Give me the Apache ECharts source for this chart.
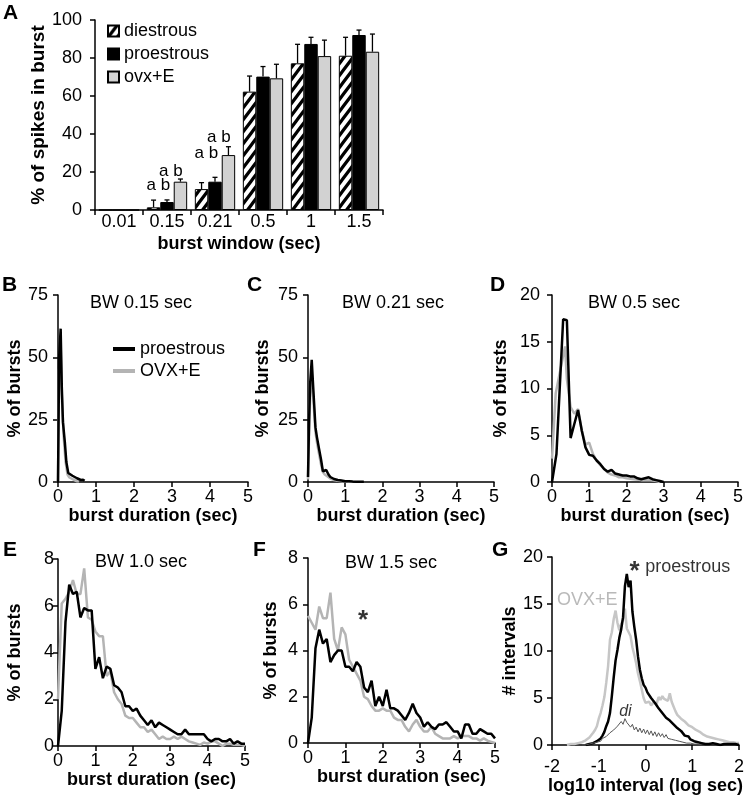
<!DOCTYPE html>
<html><head><meta charset="utf-8">
<script src="https://cdn.jsdelivr.net/npm/echarts@6/dist/echarts.min.js"></script>
<style>html,body{margin:0;padding:0;background:#fff}#c{width:747px;height:798px}</style>
</head><body><div id="c"></div>
<script>
const FONT = "'Liberation Sans', Arial, Helvetica, sans-serif";

// ---------- Panel A: % of spikes in burst ----------
const windows = ['0.01', '0.15', '0.21', '0.5', '1', '1.5'];
const diestrous = [0, 1.4, 11, 62.3, 77.2, 81.2];
const diestrousSem = [0, 3.8, 3.4, 8.2, 10, 9.7];
const proestrous = [0, 4.2, 14.9, 70.2, 87.4, 92.1];
const proestrousSem = [0, 1.1, 2.3, 5.3, 3.5, 2.6];
const ovxE = [0, 14.9, 28.9, 69.3, 81, 83.3];
const ovxESem = [0, 1.4, 4.4, 7.4, 8.4, 9.3];
// [category index, value at text centre, text, side (-1 = dies/pro pair, 1 = pro/ovx pair)]
const sigLetters = [[1, 13.2, 'a b', -1], [1, 20.5, 'a b', 1], [2, 30, 'a b', -1], [2, 38.4, 'a b', 1]];

// ---------- Panels B-D: burst duration histograms [sec, %] ----------
const bProestrous = [[0,0],[0.03,50],[0.07,61.5],[0.1,38],[0.13,24],[0.18,16],[0.22,8],[0.27,3.6],[0.32,2.8],[0.38,2.5],[0.44,2.0],[0.5,1.5],[0.55,1.0],[0.6,0.8],[0.66,0.9],[0.7,0.5]];
const bOvx = [[0,0],[0.03,45],[0.07,55],[0.1,35],[0.15,18],[0.2,8],[0.25,3],[0.3,1.8],[0.35,1.3],[0.4,1.0],[0.45,0.6],[0.5,0.3],[0.55,0.2]];
const cProestrous = [[0,2],[0.03,25],[0.06,40],[0.1,49],[0.14,38],[0.2,22],[0.24,18],[0.3,13],[0.35,9],[0.4,4.3],[0.45,4.0],[0.49,4.8],[0.55,3],[0.6,2],[0.7,1.2],[0.8,0.8],[0.9,0.6],[1.0,0.3],[1.1,0.3],[1.2,0.2],[1.3,0.15],[1.4,0.1],[1.5,0.1]];
const cOvx = [[0,1],[0.03,20],[0.06,35],[0.1,44],[0.14,34],[0.2,20],[0.25,15],[0.3,11],[0.35,7],[0.4,4],[0.45,3],[0.5,2.5],[0.6,1.4],[0.7,0.8],[0.8,0.5],[0.9,0.3],[1.0,0.2],[1.1,0.1],[1.2,0]];
const dProestrous = [[0,0],[0.12,3],[0.3,17.4],[0.4,17.3],[0.5,4.7],[0.6,6.2],[0.7,7.7],[0.8,5.5],[0.9,3.7],[1.0,2.9],[1.1,2.8],[1.2,2.3],[1.3,1.9],[1.4,1.4],[1.5,1.1],[1.6,1.3],[1.7,0.9],[1.8,0.8],[1.9,0.7],[2.0,0.7],[2.1,0.6],[2.2,0.6],[2.3,0.4],[2.4,0.3],[2.45,0.5],[2.5,0.4],[2.6,0.5],[2.7,0.3],[2.8,0.2],[2.9,0.1],[3.0,0]];
const dOvx = [[0,2.5],[0.05,6],[0.1,9.5],[0.2,11.5],[0.3,13.5],[0.35,14.5],[0.4,11],[0.5,8],[0.6,7.3],[0.7,7.8],[0.8,5.5],[0.9,4],[1.0,4.2],[1.1,3],[1.2,2.3],[1.3,1.8],[1.4,1.4],[1.5,1.0],[1.6,0.8],[1.7,0.7],[1.8,0.5],[1.9,0.5],[2.0,0.4],[2.2,0.3],[2.4,0.2],[2.6,0.2],[2.8,0.1],[2.9,0]];

// ---------- Panels E-F: 0.1 s bins from 0 to 5 s ----------
const binStepEF = 0.1;
const eProestrous = [0,1.5,5.3,6.9,6.5,6.6,5.5,5.9,5.8,5.8, 3.3,3.8,2.9,3.4,3.3,2.6,2.5,2.3,1.7,1.7, 1.5,1.6,1.3,1.1,0.9,1.1,0.8,1.0,0.9,0.8, 0.7,0.6,0.5,0.5,0.7,0.5,0.5,0.5,0.5,0.5, 0.3,0.2,0.3,0.3,0.2,0.2,0.3,0.1,0.2,0.1, 0.1];
const eOvx = [2,6.1,6.3,6.6,7.1,6.5,6.5,7.6,5.5,5.4, 4.9,4.7,4.7,3.0,3.2,2.3,2.0,1.8,1.3,1.2, 1.2,1.0,0.8,0.8,0.6,0.7,0.5,0.3,0.4,0.3, 0.3,0.4,0.3,0.4,0.3,0.2,0.15,0.1,0.05,0.15, 0.1,0.2,0.2,0.1,0,0.1,0.1,0.05,0.05,0.05, 0];
const fProestrous = [0,1.1,4.1,4.9,4.3,4.5,3.5,3.8,4.0,4.0, 3.3,3.3,3.1,3.5,3.3,2.4,2.2,2.7,1.6,2.0, 1.6,2.3,1.5,1.5,1.4,1.2,1.0,1.3,1.7,1.3, 1.1,0.7,0.9,0.7,0.6,0.8,0.8,0.9,0.7,0.5, 0.5,0.2,0.8,0.8,0.4,0.4,0.6,0.5,0.4,0.4, 0.2];
const fOvx = [5.5,5.2,4.9,5.9,5.4,5.4,6.5,4.5,4.0,5.0, 4.7,3.6,3.3,3.0,2.7,2.0,1.9,1.6,1.4,1.4, 1.5,1.4,1.4,1.1,1.0,1.0,0.7,0.5,0.8,1.0, 0.7,0.5,0.5,0.7,0.4,0.3,0.2,0.2,0.2,0.3, 0.2,0.3,0.3,0.3,0.2,0.2,0.1,0.2,0.1,0.05, 0];

// ---------- Panel G: log10 interval histogram, bins from -1.8 step 0.04 ----------
const gStart = -1.8, gStep = 0.04;
const gProestrous = [null,null,null,null,null,null,null,null,null,null,null,null,null,
  0,0.1,0.1,0.2,0.2,0.3,0.4,0.5,0.7,1.0,1.4,2.0,2.5,3.4,5.2,7.2,9.0,10.1,11.4,12.3,13.6,16.9,18.2,16.8,17.5,14.2,12.6,11.2,9.4,8.0,7.1,6.4,
  6.1,5.6,5.5,5.0,4.9,4.5,4.2,3.9,3.7,3.4,3.3,2.9,2.8,2.6,2.5,2.2,2.0,1.8,1.6,1.5,1.3,1.0,0.9,0.9,0.6,0.6,0.4,0.5,0.3,0.3,0.2,0.3,0.1,0.2,0.1,0.1,0.2,0.1,0.1,0.1,0,0.1,0.1,0,0.1,0,0.1,0,0.1,0,0];
const gOvx = [null,null,null,0,0,0.1,0,0.1,0.1,0.2,0.1,0.3,0.3,0.5,0.6,0.8,0.9,1.3,1.6,2.0,2.8,3.4,4.2,5.1,6.6,8.4,11.2,12.0,13.4,14.3,13.0,12.2,12.9,13.3,14.5,12.4,12.0,11.6,10.4,9.6,8.7,7.6,6.8,5.9,5.0,
  4.5,4.3,4.6,4.2,4.5,4.7,4.4,5.1,4.8,5.2,4.9,5.1,4.7,5.5,4.6,4.1,3.6,3.2,3.0,2.8,2.6,2.5,2.3,2.1,2.0,1.9,1.7,1.6,1.5,1.4,1.2,1.1,1.0,0.9,0.9,0.8,0.7,0.7,0.6,0.6,0.5,0.5,0.4,0.4,0.4,0.3,0.3,0.3,0.2,0.2,0.2];
const gDiestrous = [null,null,null,null,null,null,null,null,null,null,null,
  0,0.1,0,0.2,0.1,0.3,0.2,0.4,0.3,0.5,0.4,0.7,0.6,0.9,0.8,1.3,1.1,1.6,1.4,2.0,1.8,2.5,2.2,2.8,2.4,2.6,1.9,2.2,1.6,1.9,1.4,1.8,1.3,1.7,
  1.2,1.6,1.1,1.5,1.0,1.4,0.9,1.3,0.9,1.2,0.8,1.1,0.7,0.9,0.6,0.8,0.5,0.7,0.4,0.6,0.3,0.5,0.2,0.4,0.2,0.3,0.1,0.2,0.1,0.1,0,
  null,null,null,null,null,null,null,null,null,null,null,null,null,null,null,null,null,null,null,null];

// ---------- helpers ----------
const BLACK = '#000', GRAY = '#b4b4b4', LIGHTGRAY = '#c6c6c6';
function stepPairs(arr, start, step) { return arr.map((y, i) => [Math.round((start + i * step) * 1000) / 1000, y]); }

function hatchPattern() {
  const W = 9, H = 12;
  const c = document.createElement('canvas'); c.width = W; c.height = H;
  const g = c.getContext('2d');
  g.fillStyle = '#fff'; g.fillRect(0, 0, W, H);
  g.strokeStyle = '#000'; g.lineWidth = 3.2;
  g.beginPath();
  g.moveTo(-W, 2 * H); g.lineTo(2 * W, -H);
  g.moveTo(-W, H); g.lineTo(W, -H);
  g.moveTo(0, 2 * H); g.lineTo(2 * W, 0);
  g.stroke();
  return c;
}

const grids = [
  { left: 95, top: 20, width: 288, height: 190 },
  { left: 58, top: 295, width: 190, height: 187 },
  { left: 308, top: 295, width: 186, height: 187 },
  { left: 552, top: 295, width: 186, height: 187 },
  { left: 58, top: 559, width: 187, height: 187 },
  { left: 308, top: 558, width: 187, height: 185 },
  { left: 552, top: 557, width: 188, height: 188 }
];

function axis(o) {
  return Object.assign({
    axisLine: { show: true, onZero: false, lineStyle: { color: BLACK, width: 1.5 } },
    axisTick: { show: true, length: 5, lineStyle: { color: BLACK, width: 1.5 } },
    axisLabel: { color: BLACK, fontSize: 18, fontFamily: FONT, margin: o.margin },
    splitLine: { show: false },
    nameLocation: 'middle',
    nameTextStyle: { color: BLACK, fontSize: o.nameSize || 18, fontWeight: 'bold', fontFamily: FONT }
  }, o);
}

const xAxes = [
  axis({ type: 'category', gridIndex: 0, data: windows, name: 'burst window (sec)', nameGap: 25, margin: 3,
         axisTick: { show: true, length: 5, alignWithLabel: false, lineStyle: { color: BLACK, width: 1.5 } } }),
  axis({ type: 'value', gridIndex: 1, min: 0, max: 5, interval: 1, name: 'burst duration (sec)', nameGap: 21, margin: 6 }),
  axis({ type: 'value', gridIndex: 2, min: 0, max: 5, interval: 1, name: 'burst duration (sec)', nameGap: 21, margin: 6 }),
  axis({ type: 'value', gridIndex: 3, min: 0, max: 5, interval: 1, name: 'burst duration (sec)', nameGap: 21, margin: 6 }),
  axis({ type: 'value', gridIndex: 4, min: 0, max: 5, interval: 1, name: 'burst duration (sec)', nameGap: 21, margin: 6 }),
  axis({ type: 'value', gridIndex: 5, min: 0, max: 5, interval: 1, name: 'burst duration (sec)', nameGap: 24, margin: 6 }),
  axis({ type: 'value', gridIndex: 6, min: -2, max: 2, interval: 1, name: 'log10 interval (log sec)', nameGap: 30, margin: 13 })
];
const yAxes = [
  axis({ type: 'value', gridIndex: 0, min: 0, max: 100, interval: 20, name: '% of spikes in burst', nameGap: 47, nameSize: 19, margin: 13 }),
  axis({ type: 'value', gridIndex: 1, min: 0, max: 75, interval: 25, name: '% of bursts', nameGap: 34, margin: 10 }),
  axis({ type: 'value', gridIndex: 2, min: 0, max: 75, interval: 25, name: '% of bursts', nameGap: 36, margin: 10 }),
  axis({ type: 'value', gridIndex: 3, min: 0, max: 20, interval: 5, name: '% of bursts', nameGap: 42, margin: 12 }),
  axis({ type: 'value', gridIndex: 4, min: 0, max: 8, interval: 2, name: '% of bursts', nameGap: 34, margin: 4 }),
  axis({ type: 'value', gridIndex: 5, min: 0, max: 8, interval: 2, name: '% of bursts', nameGap: 28, margin: 10 }),
  axis({ type: 'value', gridIndex: 6, min: 0, max: 20, interval: 5, name: '# intervals', nameGap: 17, margin: 9 })
];

function errSeries(name, vals, sems, k) {
  return {
    type: 'custom', name: name + ' err', xAxisIndex: 0, yAxisIndex: 0, z: 5, silent: true,
    data: vals.map((v, i) => [i, v, sems[i]]),
    renderItem: function (params, api) {
      const e = api.value(2);
      if (!e) return null;
      const cat = api.value(0), v = api.value(1);
      const band = api.size([1, 0])[0];
      const bw = band * 0.28;
      const base = api.coord([cat, v]);
      const top = api.coord([cat, v + e]);
      const x = base[0] + k * bw;
      return { type: 'group', children: [
        { type: 'line', shape: { x1: x, y1: base[1], x2: x, y2: top[1] }, style: { stroke: BLACK, lineWidth: 1.3 } },
        { type: 'line', shape: { x1: x - 2.5, y1: top[1], x2: x + 2.5, y2: top[1] }, style: { stroke: BLACK, lineWidth: 1.3 } }
      ] };
    }
  };
}

function line(name, gi, data, color, width, z) {
  return { type: 'line', name: name, xAxisIndex: gi, yAxisIndex: gi, data: data, symbol: 'none', showSymbol: false,
           connectNulls: false, z: z || 2, silent: true,
           lineStyle: { color: color, width: width }, itemStyle: { color: color } };
}

function annot(gi, items) {
  return { type: 'scatter', xAxisIndex: gi, yAxisIndex: gi, symbolSize: 0, silent: true, z: 10,
    data: items.map(it => ({ name: it.text, value: it.at,
      label: Object.assign({ show: true, position: 'inside', formatter: '{b}', color: BLACK, fontSize: 18, fontFamily: FONT }, it.style || {}) })) };
}

const hatch = { image: hatchPattern(), repeat: 'repeat' };
const barStyle = { borderColor: BLACK, borderWidth: 1 };

const series = [
  { type: 'bar', name: 'diestrous', xAxisIndex: 0, yAxisIndex: 0, data: diestrous, barWidth: '28%', barGap: '0%',
    itemStyle: Object.assign({ color: hatch }, barStyle), silent: true },
  { type: 'bar', name: 'proestrous', xAxisIndex: 0, yAxisIndex: 0, data: proestrous, barWidth: '28%', barGap: '0%',
    itemStyle: Object.assign({ color: '#000' }, barStyle), silent: true },
  { type: 'bar', name: 'ovx+E', xAxisIndex: 0, yAxisIndex: 0, data: ovxE, barWidth: '28%', barGap: '0%',
    itemStyle: Object.assign({ color: '#d2d2d2' }, barStyle), silent: true },
  errSeries('diestrous', diestrous, diestrousSem, -1),
  errSeries('proestrous', proestrous, proestrousSem, 0),
  errSeries('ovx+E', ovxE, ovxESem, 1),
  { type: 'custom', name: 'letters', xAxisIndex: 0, yAxisIndex: 0, z: 6, silent: true,
    data: sigLetters.map(d => [d[0], d[1], d[3]]),
    renderItem: function (params, api) {
      const band = api.size([1, 0])[0];
      const p = api.coord([api.value(0), api.value(1)]);
      const dx = api.value(2) < 0 ? -0.18 * band : 0.08 * band;
      return { type: 'text', x: p[0] + dx, y: p[1],
        style: { text: sigLetters[params.dataIndex][2], fontSize: 17, fontFamily: FONT, fill: BLACK, align: 'center', verticalAlign: 'middle' } };
    } },

  line('OVX+E_B', 1, bOvx, GRAY, 2.5, 2),
  line('proestrous_B', 1, bProestrous, BLACK, 2.5, 3),
  line('OVX+E_C', 2, cOvx, GRAY, 2.5, 2),
  line('proestrous_C', 2, cProestrous, BLACK, 2.5, 3),
  line('OVX+E_D', 3, dOvx, GRAY, 2.5, 2),
  line('proestrous_D', 3, dProestrous, BLACK, 2.5, 3),
  line('OVX+E_E', 4, stepPairs(eOvx, 0, binStepEF), GRAY, 2.5, 2),
  line('proestrous_E', 4, stepPairs(eProestrous, 0, binStepEF), BLACK, 2.5, 3),
  line('OVX+E_F', 5, stepPairs(fOvx, 0, binStepEF), GRAY, 2.5, 2),
  line('proestrous_F', 5, stepPairs(fProestrous, 0, binStepEF), BLACK, 2.5, 3),
  line('OVX+E_G', 6, stepPairs(gOvx, gStart, gStep), LIGHTGRAY, 2.5, 2),
  line('proestrous_G', 6, stepPairs(gProestrous, gStart, gStep), BLACK, 2.5, 3),
  line('diestrous_G', 6, stepPairs(gDiestrous, gStart, gStep), '#555', 1, 4),

  annot(5, [{ text: '*', at: [1.47, 5.3], style: { fontSize: 26, fontWeight: 'bold' } }]),
  annot(6, [
    { text: 'OVX+E', at: [-1.245, 15.4], style: { color: '#a8a8a8' } },
    { text: '*', at: [-0.234, 18.4], style: { fontSize: 26, fontWeight: 'bold' } },
    { text: 'proestrous', at: [0.904, 18.9] },
    { text: 'di', at: [-0.43, 3.6], style: { fontStyle: 'italic', fontSize: 16 } }
  ])
];

function ttl(text, left, top, size, weight) {
  return { text: text, left: left, top: top, padding: 0,
    textStyle: { fontSize: size, fontWeight: weight, color: BLACK, fontFamily: FONT } };
}

const option = {
  animation: false,
  backgroundColor: '#fff',
  title: [
    ttl('A', 3, 3, 21, 'bold'), ttl('B', 2, 275, 21, 'bold'), ttl('C', 247, 275, 21, 'bold'), ttl('D', 490, 275, 21, 'bold'),
    ttl('E', 3, 540, 21, 'bold'), ttl('F', 253, 540, 21, 'bold'), ttl('G', 492, 540, 21, 'bold'),
    ttl('BW 0.15 sec', 90, 294, 18, 'normal'), ttl('BW 0.21 sec', 342, 294, 18, 'normal'), ttl('BW 0.5 sec', 588, 294, 18, 'normal'),
    ttl('BW 1.0 sec', 95, 553, 18, 'normal'), ttl('BW 1.5 sec', 345, 554, 18, 'normal')
  ],
  legend: [
    { data: ['diestrous', 'proestrous', 'ovx+E'], orient: 'vertical', left: 107, top: 22, padding: 0,
      itemWidth: 11, itemHeight: 11, itemGap: 5, icon: 'rect', selectedMode: false,
      textStyle: { fontSize: 18, color: BLACK, fontFamily: FONT } },
    { data: ['proestrous_B', 'OVX+E_B'], orient: 'vertical', left: 113, top: 340, padding: 0,
      itemWidth: 22, itemHeight: 4, itemGap: 4, icon: 'rect', selectedMode: false,
      formatter: n => n.split('_')[0],
      textStyle: { fontSize: 18, color: BLACK, fontFamily: FONT } }
  ],
  grid: grids,
  xAxis: xAxes,
  yAxis: yAxes,
  series: series
};

const chart = echarts.init(document.getElementById('c'));
chart.setOption(option);
</script>
</body></html>
